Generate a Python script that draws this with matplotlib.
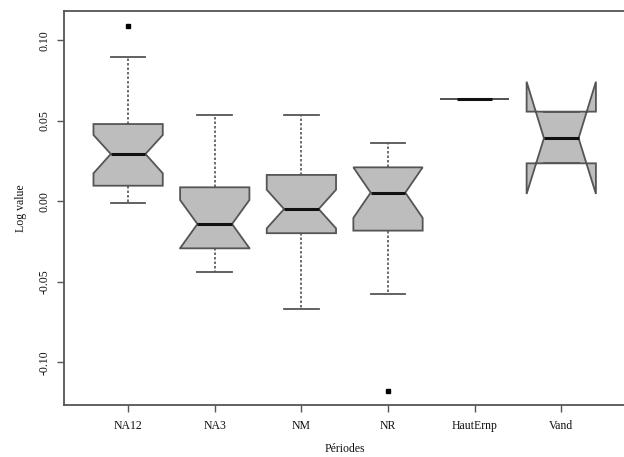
#!/usr/bin/env python3
"""Boxplot à encoches (style R) : Log value par période."""
import matplotlib
matplotlib.use("Agg")
import matplotlib.pyplot as plt

# données (résumés des boîtes)
periodes = ["NA12", "NA3", "NM", "NR", "HautErnp", "Vand"]
whislo = [-0.0007, -0.0436, -0.0669, -0.0576, 0.0635, 0.0237]
q1 = [0.0098, -0.0291, -0.0197, -0.0181, 0.0635, 0.0237]
cilo = [0.0175, -0.0290, -0.0167, -0.0102, 0.0635, 0.0047]
med = [0.0295, -0.0140, -0.0047, 0.0055, 0.0635, 0.0393]
cihi = [0.0413, 0.0009, 0.0073, 0.0212, 0.0635, 0.0744]
q3 = [0.0481, 0.0088, 0.0165, 0.0212, 0.0635, 0.0558]
whishi = [0.0899, 0.0537, 0.0537, 0.0365, 0.0635, 0.0558]
fliers = [[0.1091], [], [], [-0.1176], [], []]

yticks = [-0.10, -0.05, 0.00, 0.05, 0.10]
ytick_labels = ["-0.10", "-0.05", "0.00", "0.05", "0.10"]

plt.rcParams["font.family"] = ["Liberation Serif", "DejaVu Serif"]

stats = []
for i, name in enumerate(periodes):
    stats.append(dict(label=name, whislo=whislo[i], q1=q1[i], cilo=cilo[i],
                      med=med[i], cihi=cihi[i], q3=q3[i], whishi=whishi[i],
                      fliers=fliers[i]))

fig = plt.figure(figsize=(6.24, 4.57), dpi=100)
ax = fig.add_axes([0.1026, 0.1138, 0.8996, 0.8621])

edge = "#555555"
ax.bxp(stats, positions=range(1, len(periodes) + 1), widths=0.8,
       shownotches=True, patch_artist=True,
       boxprops=dict(facecolor="#bdbdbd", edgecolor=edge, linewidth=1.3),
       medianprops=dict(color="#111111", linewidth=2.2),
       whiskerprops=dict(color=edge, linewidth=1.2, linestyle=(0, (1.5, 1.2))),
       capprops=dict(color=edge, linewidth=1.3),
       flierprops=dict(marker="s", markersize=3.5, markerfacecolor="black",
                       markeredgecolor="black"))

ax.set_xlim(0.26, 6.74)
ax.set_ylim(-0.1264, 0.1183)
ax.set_yticks(yticks)
ax.set_yticklabels(ytick_labels, rotation=90, va="center")
ax.tick_params(axis="both", direction="out", length=5, width=1, color=edge,
               labelsize=8.5, labelcolor="#111111")
ax.tick_params(axis="y", pad=5)
ax.tick_params(axis="x", pad=6)
for s in ax.spines.values():
    s.set_color(edge)
    s.set_linewidth(1.3)

ax.set_xlabel("Périodes", fontsize=8.5, color="#111111", labelpad=8)
ax.set_ylabel("Log value", fontsize=8.5, color="#111111", labelpad=8)

fig.savefig("out.png", dpi=100, facecolor="white")
plt.close(fig)
